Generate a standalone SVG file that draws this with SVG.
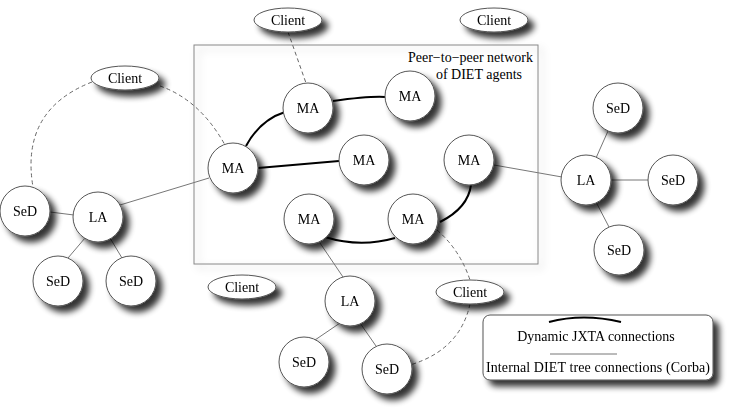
<svg xmlns="http://www.w3.org/2000/svg" width="736" height="418" viewBox="0 0 736 418">
<defs>
<filter id="sh" x="-50%" y="-50%" width="200%" height="200%"><feGaussianBlur in="SourceAlpha" stdDeviation="3"/><feOffset dx="6" dy="6"/><feComponentTransfer><feFuncA type="linear" slope="0.8"/></feComponentTransfer><feMerge><feMergeNode/><feMergeNode in="SourceGraphic"/></feMerge></filter>
<filter id="sh2" x="-10%" y="-10%" width="120%" height="120%"><feGaussianBlur in="SourceAlpha" stdDeviation="4"/><feOffset dx="4" dy="4"/><feComponentTransfer><feFuncA type="linear" slope="0.25"/></feComponentTransfer><feMerge><feMergeNode/><feMergeNode in="SourceGraphic"/></feMerge></filter>
</defs>
<style>
.n{fill:#fff;stroke:#555;stroke-width:1}
text{font-family:"Liberation Serif","DejaVu Serif",serif;font-size:14px;fill:#000;text-anchor:middle}
.t{stroke:#000;stroke-width:2;fill:none}
.s{stroke:#777;stroke-width:1;fill:none}
.d{stroke:#666;stroke-width:1;fill:none;stroke-dasharray:4,3}
</style>
<rect x="0" y="0" width="736" height="418" fill="#fff"/>
<g id="box"><rect x="194" y="45" width="344" height="219" fill="none" stroke="#888" filter="url(#sh2)"/>
<text x="533" y="62" style="text-anchor:end">Peer−to−peer network</text>
<text x="522" y="79" style="text-anchor:end">of DIET agents</text></g>
<g id="connectors">
<path class="t" d="M333,101 Q370,96 385,97"/>
<path class="t" d="M246,146 Q260,120 285,112"/>
<path class="t" d="M258,168 L339,161"/>
<path class="t" d="M471,185 Q468,208 440,222"/>
<path class="t" d="M325,237 Q360,248 395,238"/>
<path class="s" d="M209,178 L120,205"/>
<path class="s" d="M494,165 L562,177"/>
<path class="s" d="M320,243 L343,277"/>
<path class="s" d="M50,212 L74,215"/>
<path class="s" d="M85,238 L68,258"/>
<path class="s" d="M110,238 L122,258"/>
<path class="s" d="M608,131 L596,158"/>
<path class="s" d="M611,180 L648,180"/>
<path class="s" d="M596,202 L609,227"/>
<path class="s" d="M340,323 L315,340"/>
<path class="s" d="M360,323 L376,346"/>
<path class="d" d="M288,32 L306,83"/>
<path class="d" d="M160,86 Q200,100 225,145"/>
<path class="d" d="M92,82 Q20,110 33,187"/>
<path class="d" d="M437,230 Q460,250 470,280"/>
<path class="d" d="M470,304 Q460,350 410,365"/>
</g>
<g filter="url(#sh)">
<g id="c1"><ellipse class="n" cx="288" cy="20" rx="34" ry="12"/><text x="288" y="25">Client</text></g>
<g id="c2"><ellipse class="n" cx="494" cy="20" rx="34" ry="12"/><text x="494" y="25">Client</text></g>
<g id="c3"><ellipse class="n" cx="125" cy="78" rx="34" ry="12"/><text x="125" y="83">Client</text></g>
<g id="c4"><ellipse class="n" cx="242" cy="287" rx="34" ry="12"/><text x="242" y="292">Client</text></g>
<g id="c5"><ellipse class="n" cx="470" cy="292" rx="34" ry="12"/><text x="470" y="297">Client</text></g>
<g id="ma1"><circle class="n" cx="308" cy="108" r="25"/><text x="308" y="113">MA</text></g>
<g id="ma2"><circle class="n" cx="410" cy="96" r="25"/><text x="410" y="101">MA</text></g>
<g id="ma3"><circle class="n" cx="233" cy="168" r="25"/><text x="233" y="173">MA</text></g>
<g id="ma4"><circle class="n" cx="364" cy="160" r="25"/><text x="364" y="165">MA</text></g>
<g id="ma5"><circle class="n" cx="469" cy="160" r="25"/><text x="469" y="165">MA</text></g>
<g id="ma6"><circle class="n" cx="309" cy="219" r="25"/><text x="309" y="224">MA</text></g>
<g id="ma7"><circle class="n" cx="413" cy="219" r="25"/><text x="413" y="224">MA</text></g>
<g id="la1"><circle class="n" cx="98" cy="217" r="25"/><text x="98" y="222">LA</text></g>
<g id="sd1"><circle class="n" cx="25" cy="211" r="25"/><text x="25" y="216">SeD</text></g>
<g id="sd2"><circle class="n" cx="58" cy="281" r="25"/><text x="58" y="286">SeD</text></g>
<g id="sd3"><circle class="n" cx="131" cy="281" r="25"/><text x="131" y="286">SeD</text></g>
<g id="la2"><circle class="n" cx="586" cy="180" r="25"/><text x="586" y="185">LA</text></g>
<g id="sd4"><circle class="n" cx="618" cy="108" r="25"/><text x="618" y="113">SeD</text></g>
<g id="sd5"><circle class="n" cx="673" cy="180" r="25"/><text x="673" y="185">SeD</text></g>
<g id="sd6"><circle class="n" cx="619" cy="250" r="25"/><text x="619" y="255">SeD</text></g>
<g id="la3"><circle class="n" cx="350" cy="301" r="25"/><text x="350" y="306">LA</text></g>
<g id="sd7"><circle class="n" cx="304" cy="362" r="25"/><text x="304" y="367">SeD</text></g>
<g id="sd8"><circle class="n" cx="387" cy="369" r="25"/><text x="387" y="374">SeD</text></g>
<g id="legend"><rect class="n" x="483" y="315" width="230" height="65" rx="7"/>
<path d="M549,322 Q583,313 621,322" stroke="#000" stroke-width="2" fill="none"/>
<text x="596" y="341">Dynamic JXTA connections</text>
<line x1="550" y1="354" x2="617" y2="354" stroke="#777"/>
<text x="598" y="372" textLength="224">Internal DIET tree connections (Corba)</text></g>
</g>
</svg>
